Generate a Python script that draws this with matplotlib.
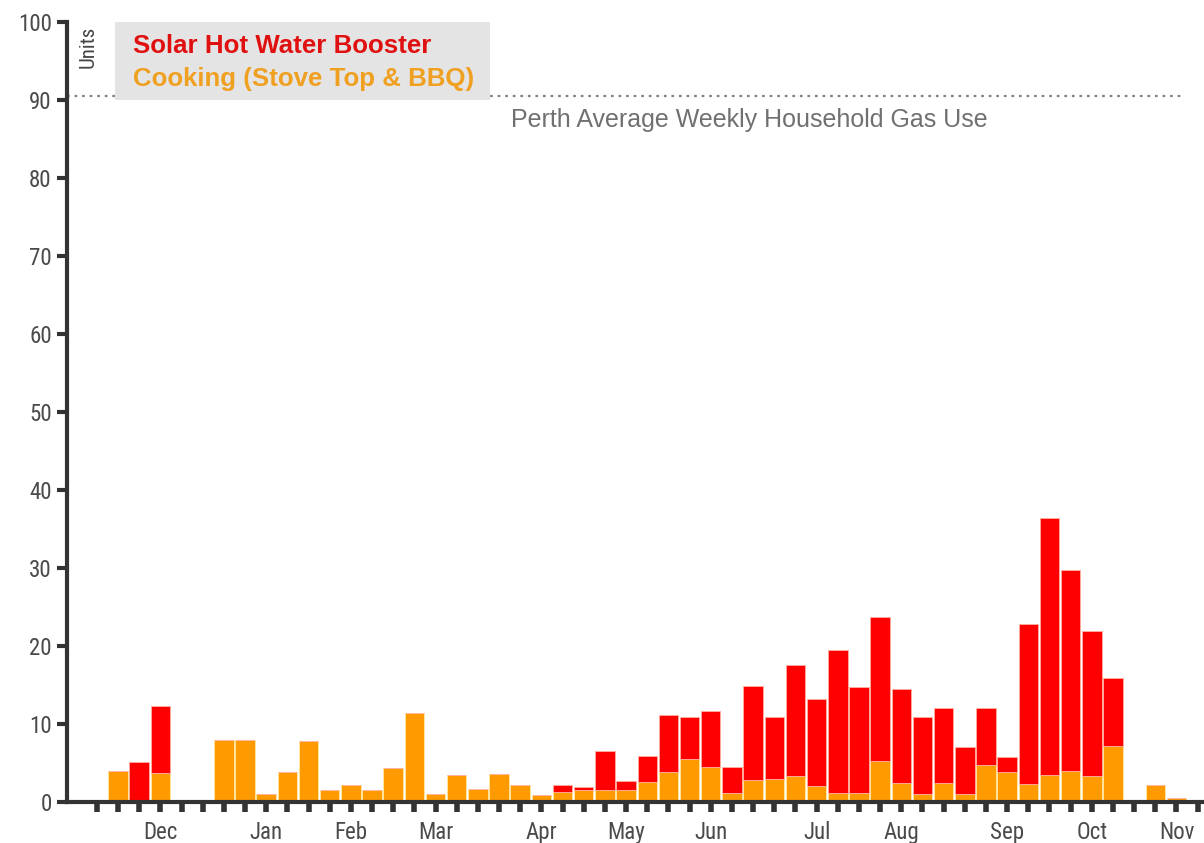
import matplotlib
matplotlib.use("Agg")
import matplotlib.pyplot as plt
from matplotlib import font_manager
from matplotlib.font_manager import FontProperties
import numpy as np
import os

# ---- data (weekly, 51 weeks) ----
cooking = [4.0, 0.0, 3.7, 0.0, 0.0, 8.0, 8.0, 1.0, 3.8, 7.8,
           1.5, 2.2, 1.5, 4.3, 11.4, 1.0, 3.4, 1.7, 3.6, 2.2,
           0.9, 1.3, 1.6, 1.5, 1.5, 2.6, 3.9, 5.5, 4.5, 1.2,
           2.8, 3.0, 3.3, 2.0, 1.2, 1.2, 5.2, 2.5, 1.0, 2.5,
           1.0, 4.75, 3.9, 2.3, 3.45, 4.0, 3.3, 7.2, 0.0, 2.2, 0.45]
total = [4.0, 5.1, 12.35, 0.0, 0.0, 8.0, 8.0, 1.0, 3.8, 7.8,
         1.5, 2.2, 1.5, 4.3, 11.4, 1.0, 3.4, 1.7, 3.6, 2.2,
         0.9, 2.2, 1.9, 6.6, 2.7, 5.9, 11.15, 10.85, 11.7, 4.5,
         14.9, 10.85, 17.6, 13.25, 19.5, 14.8, 23.7, 14.45, 10.85, 12.0,
         7.1, 12.1, 5.8, 22.8, 36.4, 29.7, 21.95, 15.95, 0.0, 2.2, 0.45]
booster = [t - c for t, c in zip(total, cooking)]
weeks = list(range(len(cooking)))
month_labels = ["Dec", "Jan", "Feb", "Mar", "Apr", "May", "Jun",
                "Jul", "Aug", "Sep", "Oct", "Nov"]
month_weeks = [2, 7, 11, 15, 20, 24, 28, 33, 37, 42, 46, 50]
average_use = 90.5
series_names = ["Solar Hot Water Booster", "Cooking (Stove Top & BBQ)"]

# ---- fonts ----
avail = {f.name for f in font_manager.fontManager.ttflist}
arial = "Liberation Sans" if "Liberation Sans" in avail else "DejaVu Sans"


def find_narrow():
    prefs = ["LiberationSansNarrow-Regular", "RobotoCondensed-Regular",
             "OpenSansCondensed", "DejaVuSansCondensed.ttf", "Roboto_Condensed",
             "OpenSans_Condensed"]
    files = [f.fname for f in font_manager.fontManager.ttflist]
    for p in prefs:
        for fn in files:
            if p.lower() in os.path.basename(fn).lower():
                return FontProperties(fname=fn)
    for fn in files:
        b = os.path.basename(fn).lower()
        if ("condensed" in b or "narrow" in b) and "bold" not in b \
                and "italic" not in b and "oblique" not in b:
            return FontProperties(fname=fn)
    return FontProperties(family="DejaVu Sans", stretch="condensed")


narrow_fp = find_narrow()

RED = "#ff0000"
ORANGE = "#ff9a00"
AXC = "#333333"

fig = plt.figure(figsize=(12.04, 8.43), dpi=100)
ax = fig.add_axes([67 / 1204, 41 / 843, 1 - 67 / 1204, (802 - 22) / 843])

ax.bar(weeks, cooking, width=0.92, color=ORANGE, edgecolor="#ffe9a0",
       linewidth=0.6, zorder=2)
ax.bar(weeks, booster, bottom=cooking, width=0.92, color=RED,
       edgecolor="#ffb0a0", linewidth=0.6, zorder=2)

ax.set_xlim(-2.41, 51.3)
ax.set_ylim(0, 100)

# average line
ax.axhline(average_use, xmin=0, xmax=(50.4 + 2.41) / (51.3 + 2.41),
           color="#808080", linestyle=(0, (1.2, 2.2)), linewidth=1.6, zorder=1)
ax.text(29.8, 87.4, "Perth Average Weekly Household Gas Use",
        ha="center", va="center", fontsize=18, color="#707070", family=arial)

# legend box
ax.add_patch(plt.Rectangle((-0.13, 90.0), 17.7, 10.0, facecolor="#e4e4e4",
                           edgecolor="none", zorder=3, clip_on=False))
ax.text(0.7, 96.9, series_names[0], ha="left", va="center", fontsize=18.6,
        fontweight="bold", color="#e01010", family=arial, zorder=4)
ax.text(0.7, 92.7, series_names[1], ha="left", va="center", fontsize=18.6,
        fontweight="bold", color="#f0a020", family=arial, zorder=4)

# Units label
fp_units = narrow_fp.copy()
fp_units.set_size(15)
ax.text(-1.42, 96.8, "Units", rotation=90, ha="center", va="center",
        color="#444444", fontproperties=fp_units)

# axes styling
for s in ["top", "right"]:
    ax.spines[s].set_visible(False)
for s in ["left", "bottom"]:
    ax.spines[s].set_color(AXC)
    ax.spines[s].set_linewidth(3)
ax.set_yticks(np.arange(0, 101, 10))
ax.tick_params(axis="y", length=7, width=3, color=AXC,
               labelcolor="#4a4a4a", pad=4)
ax.xaxis.remove_overlapping_locs = False
ax.set_xticks(range(-1, 52))
ax.set_xticklabels([""] * len(range(-1, 52)))
ax.set_xticks(month_weeks, minor=True)
ax.set_xticklabels(month_labels, minor=True)
ax.tick_params(axis="x", which="major", length=7, width=4, color=AXC)
ax.tick_params(axis="x", which="minor", length=0,
               labelcolor="#4a4a4a", pad=14)
fp_ticks = narrow_fp.copy()
fp_ticks.set_size(16.5)
for lab in ax.get_xticklabels(minor=True) + ax.get_yticklabels():
    lab.set_fontproperties(fp_ticks)

fig.savefig("out.png", dpi=100)
